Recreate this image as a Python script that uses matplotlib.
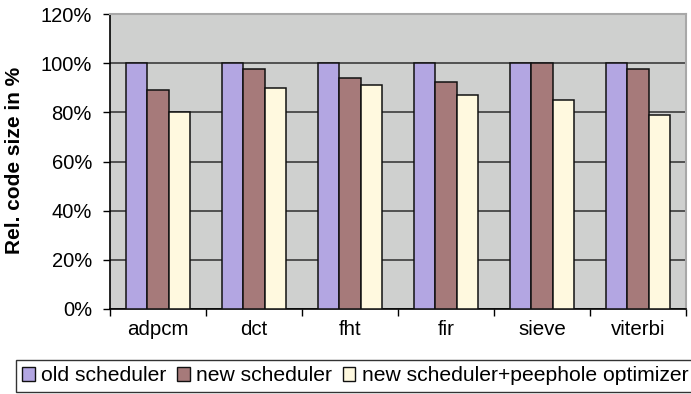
import matplotlib
matplotlib.use("Agg")
import matplotlib.pyplot as plt
import numpy as np
from matplotlib.patches import Patch

categories = ["adpcm", "dct", "fht", "fir", "sieve", "viterbi"]
series_names = ["old scheduler", "new scheduler", "new scheduler+peephole optimizer"]
old_sched = [100, 100, 100, 100, 100, 100]
new_sched = [89, 97.5, 94, 92.5, 100, 97.5]
peephole = [80, 90, 91, 87, 85, 79]
yticks = [0, 20, 40, 60, 80, 100, 120]
ytick_labels = ["0%", "20%", "40%", "60%", "80%", "100%", "120%"]

colors = ["#B3A6E2", "#A67A7A", "#FFF9DF"]
FS = 14.5
XFS = 14.8
YLAB_FS = 15.0
LEG_FS = 15.2

plt.rcParams["font.family"] = ["Liberation Sans", "DejaVu Sans"]

fig = plt.figure(figsize=(6.91, 3.94), dpi=100)
ax = fig.add_axes([110 / 691, 1 - 309 / 394, (686 - 110) / 691, (309 - 14) / 394])
ax.set_facecolor("#CFD0CF")

x = np.arange(len(categories))
w = 0.222
for i, vals in enumerate([old_sched, new_sched, peephole]):
    ax.bar(x + (i - 1) * w, vals, width=w, color=colors[i],
           edgecolor="#111111", linewidth=1.1, zorder=3)

ax.set_xlim(-0.5, len(categories) - 0.5)
ax.set_ylim(0, 120)
ax.set_yticks(yticks)
ax.set_yticklabels(ytick_labels, fontsize=FS)
ax.yaxis.grid(True, color="#3c3c3c", linewidth=1.2, zorder=1)
ax.set_axisbelow(True)

ax.set_xticks(x)
ax.set_xticklabels(categories, fontsize=XFS)
ax.tick_params(axis="x", length=0, pad=8)
ax.set_xticks(np.arange(len(categories) + 1) - 0.5, minor=True)
ax.tick_params(axis="x", which="minor", length=5, width=1, direction="out")
ax.tick_params(axis="y", length=5, width=1, direction="out", pad=8)

for side in ["left", "bottom"]:
    ax.spines[side].set_color("black")
    ax.spines[side].set_linewidth(1.2)
for side in ["top", "right"]:
    ax.spines[side].set_color("#A8A8A8")
    ax.spines[side].set_linewidth(1.5)

ax.set_ylabel("Rel. code size in %", fontsize=YLAB_FS, fontweight="bold")
ax.yaxis.set_label_coords(-(110 - 24) / 576, 0.5 + 1 / 295)

handles = [Patch(facecolor=c, edgecolor="#111111", linewidth=1.0) for c in colors]
leg = fig.legend(handles, series_names, loc="upper left",
                 bbox_to_anchor=(16 / 691, 1 - 360 / 394), ncol=3,
                 fontsize=LEG_FS, frameon=True, fancybox=False,
                 handlelength=0.6, handleheight=0.6, handletextpad=0.3,
                 columnspacing=0.5, borderpad=0.3, borderaxespad=0)
leg.get_frame().set_edgecolor("black")
leg.get_frame().set_linewidth(1.0)

fig.savefig("out.png", dpi=100)
